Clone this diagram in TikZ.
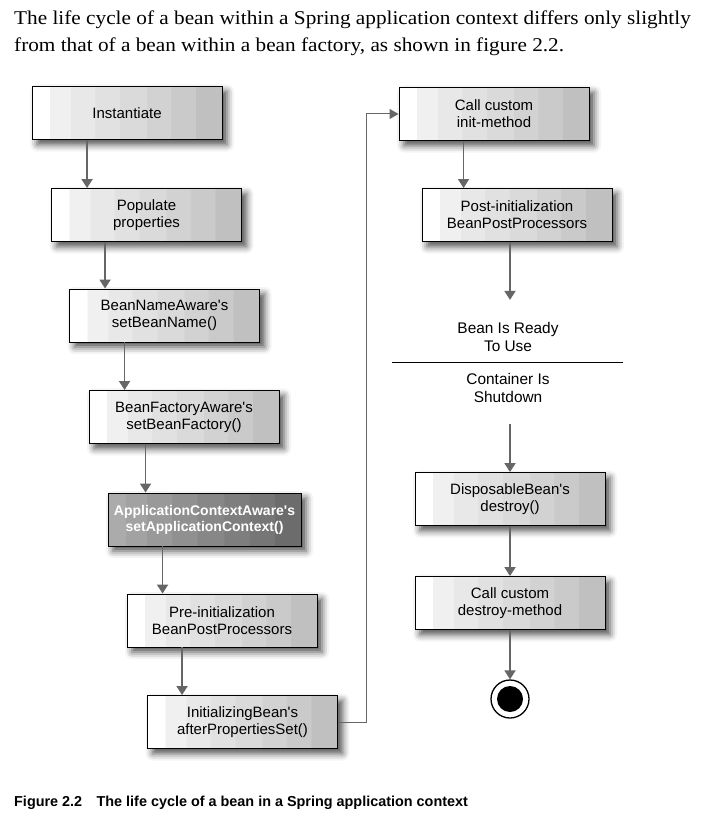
\documentclass[tikz,border=0pt]{standalone}
\usepackage{fontspec}
\setmainfont{Liberation Serif}
\newfontfamily\introfont[FakeStretch=1.09]{Liberation Serif}
\newfontfamily\boxfont{Liberation Sans}
\usetikzlibrary{arrows.meta,shadows.blur,calc}

% band colours for the step boxes
\definecolor{lb1}{HTML}{F0F0F0}
\definecolor{lb2}{HTML}{E8E8E8}
\definecolor{lb3}{HTML}{E1E1E1}
\definecolor{lb4}{HTML}{DADADA}
\definecolor{lb5}{HTML}{D2D2D2}
\definecolor{lb6}{HTML}{CACACA}
\definecolor{lb7}{HTML}{C0C0C0}
\definecolor{db0}{HTML}{ABABAB}
\definecolor{db1}{HTML}{A2A2A2}
\definecolor{db2}{HTML}{999999}
\definecolor{db3}{HTML}{909090}
\definecolor{db4}{HTML}{878787}
\definecolor{db5}{HTML}{7E7E7E}
\definecolor{db6}{HTML}{767676}
\definecolor{db7}{HTML}{6C6C6C}

\pgfdeclarehorizontalshading{lightbands}{100bp}{%
  color(0bp)=(white); color(29.5bp)=(white);
  color(29.6bp)=(lb1); color(35bp)=(lb1);
  color(35.1bp)=(lb2); color(41.5bp)=(lb2);
  color(41.6bp)=(lb3); color(48bp)=(lb3);
  color(48.1bp)=(lb4); color(55bp)=(lb4);
  color(55.1bp)=(lb5); color(61.5bp)=(lb5);
  color(61.6bp)=(lb6); color(68bp)=(lb6);
  color(68.1bp)=(lb7); color(100bp)=(lb7)}

\pgfdeclarehorizontalshading{darkbands}{100bp}{%
  color(0bp)=(db0); color(29.5bp)=(db0);
  color(29.6bp)=(db1); color(35bp)=(db1);
  color(35.1bp)=(db2); color(41.5bp)=(db2);
  color(41.6bp)=(db3); color(48bp)=(db3);
  color(48.1bp)=(db4); color(55bp)=(db4);
  color(55.1bp)=(db5); color(61.5bp)=(db5);
  color(61.6bp)=(db6); color(68bp)=(db6);
  color(68.1bp)=(db7); color(100bp)=(db7)}

\tikzset{
  stage/.style={draw=black, line width=0.9pt, minimum width=190pt,
    minimum height=53pt, inner sep=0pt, align=center,
    font=\boxfont\fontsize{15}{17}\selectfont, shading=lightbands,
    blur shadow={shadow xshift=5pt, shadow yshift=-5pt,
      shadow blur radius=7pt, shadow opacity=70}},
  darkstage/.style={stage, shading=darkbands, text=white,
    font=\boxfont\bfseries\fontsize{14}{16}\selectfont},
  phase/.style={inner sep=0pt, align=center,
    font=\boxfont\fontsize{15.4}{18.5}\selectfont},
  intro/.style={anchor=base west, inner sep=0pt,
    font=\introfont\fontsize{19.5}{27}\selectfont},
  flow/.style={draw=black!60, line width=1.8pt,
    -{Triangle[width=11pt,length=9pt]}},
  loopback/.style={draw=black!60, line width=1pt,
    -{Triangle[width=10pt,length=9pt]}},
  divider/.style={draw=black, line width=1pt},
}

\begin{document}
\begin{tikzpicture}[x=1pt,y=-1pt]
\useasboundingbox (0,0) rectangle (701,834);

% introductory paragraph
\node[intro] (intro1) at (14,25)
  {The life cycle of a bean within a Spring application context differs only slightly};
\node[intro] (intro2) at (14,52)
  {from that of a bean within a bean factory, as shown in figure 2.2.};

% left column: creation steps
\node[stage] (inst) at (127,113) {Instantiate};
\node[stage] (pop) at (146.5,215) {Populate\\properties};
\node[stage] (bname) at (164.5,315.5) {BeanNameAware's\\setBeanName()};
\node[stage] (bfact) at (184,417) {BeanFactoryAware's\\setBeanFactory()};
\node[darkstage, minimum width=193pt] (actx) at (204.5,519.5) {ApplicationContextAware's\\setApplicationContext()};
\node[stage] (preinit) at (222,620.5) {Pre-initialization\\BeanPostProcessors};
\node[stage] (initbean) at (242.5,722) {InitializingBean's\\afterPropertiesSet()};

% right column: init, use, destruction
\node[stage] (initm) at (494,114) {Call custom\\init-method};
\node[stage] (postinit) at (517,215) {Post-initialization\\BeanPostProcessors};
\node[phase] (ready) at (508,337) {Bean Is Ready\\To Use};
\node[phase] (shut) at (508,388) {Container Is\\Shutdown};
\draw[divider] (392,362) -- (623,362);
\node[stage] (disp) at (510,499) {DisposableBean's\\destroy()};
\node[stage] (destroym) at (510,603) {Call custom\\destroy-method};

% final state
\node[circle, draw=black, line width=1.3pt, fill=white, minimum size=38pt, inner sep=0pt] (endo) at (510,699) {};
\node[circle, fill=black, minimum size=26pt, inner sep=0pt] (endi) at (endo.center) {};

% connectors, left column
\draw[flow] ($(pop.north west |- inst.south)+(36,0)$) -- ($(pop.north west)+(36,0)$);
\draw[flow] ($(bname.north west |- pop.south)+(36,0)$) -- ($(bname.north west)+(36,0)$);
\draw[flow] ($(bfact.north west |- bname.south)+(36,0)$) -- ($(bfact.north west)+(36,0)$);
\draw[flow] ($(actx.north west |- bfact.south)+(38,0)$) -- ($(actx.north west)+(38,0)$);
\draw[flow] ($(preinit.north west |- actx.south)+(36,0)$) -- ($(preinit.north west)+(36,0)$);
\draw[flow] ($(initbean.north west |- preinit.south)+(35,0)$) -- ($(initbean.north west)+(35,0)$);

% loop back to the init-method
\draw[loopback] (initbean.east) -- ($(initbean.east)+(29,0)$) |- (initm.west);

% connectors, right column
\draw[flow] ($(initm.south west)+(65,0)$) -- ($(postinit.north west)+(42,0)$);
\draw[flow] ($(postinit.south -| disp.south)$) -- ($(ready.north -| disp.south)+(0,-22)$);
\draw[flow] ($(shut.south -| disp.north)+(0,21)$) -- (disp.north);
\draw[flow] (disp.south) -- (destroym.north);
\draw[flow] (destroym.south) -- (endo.north);

% caption
\node[anchor=base west, inner sep=0pt, font=\boxfont\bfseries\fontsize{14.4}{16}\selectfont] (caption) at (14,806)
  {Figure 2.2\hspace{1em}The life cycle of a bean in a Spring application context};
\end{tikzpicture}
\end{document}
